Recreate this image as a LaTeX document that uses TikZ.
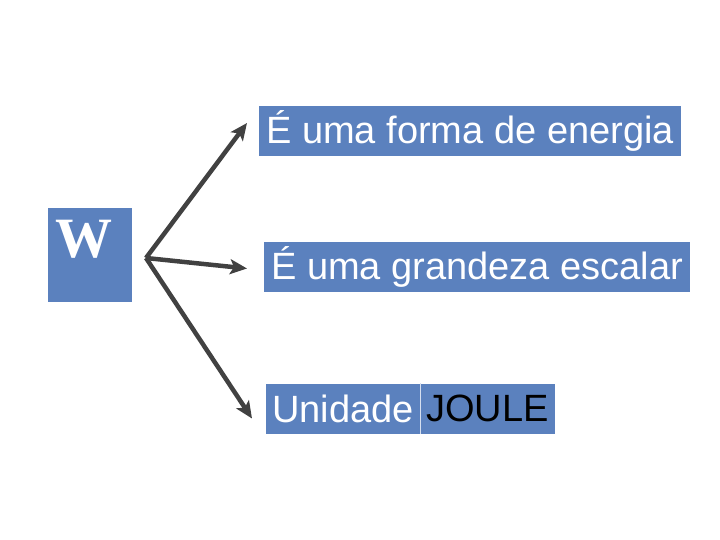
\documentclass[tikz,border=0pt]{standalone}
\usepackage{fontspec}
\setmainfont{Liberation Sans}
\newfontfamily\wfont{Liberation Serif}
\usetikzlibrary{arrows.meta, positioning}

\definecolor{boxblue}{HTML}{5B81BE}
\definecolor{arrowgray}{HTML}{414141}

\begin{document}
\begin{tikzpicture} [x=1pt, y=-1pt,
    every node/.style={inner sep=0pt},
    fact/.style={fill=boxblue, text=white, anchor=west,
        inner xsep=7pt, minimum height=50pt,
        font=\fontsize{38}{40}\selectfont},
    branch/.style={draw=arrowgray, line width=4.5pt,
        -{Stealth[length=17pt, width=15pt, inset=4pt]}}]

\useasboundingbox (0,0) rectangle (720,540);

\node (w) [fill=boxblue, minimum width=84pt, minimum height=94pt] at (90,255) {};

\node (wlabel) [anchor=north west, text=white, font=\wfont\bfseries\fontsize{57}{57}\selectfont] at ([xshift=7pt, yshift=-12pt]w.north west) {W};

\node (energia) [fact] at (259,131) {É uma forma de energia};

\node (escalar) [fact] at (264,266.5) {É uma grandeza escalar};

\node (unidade) [fact, inner xsep=6pt] at (266,408.5) {Unidade};

\node (joule) [fact, inner xsep=6pt, text=black, right=0pt of unidade] {JOULE};

\draw [white!75!boxblue, line width=0.8pt] (unidade.north east) -- (unidade.south east);

% Arrows
\coordinate (fork) at (146,258);
\coordinate (tip1) at ([xshift=-12pt, yshift=8pt]energia.west);
\coordinate (tip2) at ([xshift=-17pt, yshift=-2pt]escalar.west);
\coordinate (tip3) at ([xshift=-14pt, yshift=-10pt]unidade.west);

\draw [branch] (fork) -- (tip1);
\draw [branch] (fork) -- (tip2);
\draw [branch] (fork) -- (tip3);
\end{tikzpicture}
\end{document}
